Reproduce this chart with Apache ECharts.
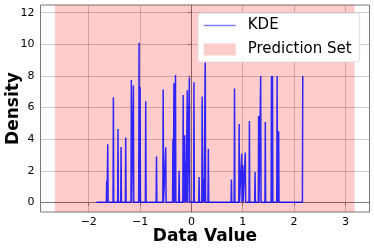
<!DOCTYPE html>
<html>
<head>
<meta charset="utf-8">
<script src="https://cdn.jsdelivr.net/npm/echarts@6/dist/echarts.min.js"></script>
<style>html,body{margin:0;padding:0;background:#fff;}#c{width:374px;height:249px;}</style>
</head>
<body>
<div id="c"></div>
<script>
// Spike locations and heights of the KDE curve
const spikeX = [-1.65,-1.63,-1.52,-1.43,-1.37,-1.28,-1.17,-1.13,-1.02,-1.00,-0.89,-0.68,-0.55,-0.50,-0.36,-0.34,-0.31,-0.24,-0.16,-0.13,-0.11,-0.08,-0.04,0.05,0.15,0.21,0.24,0.27,0.33,0.78,0.84,0.93,0.98,1.00,1.05,1.13,1.24,1.31,1.35,1.44,1.56,1.58,1.67,1.70,2.17];
const spikeH = [1.35,3.67,6.65,4.64,3.5,4.11,7.74,7.4,10.1,7.3,6.4,2.9,7.15,3.48,4.0,7.53,8.06,2.0,6.8,4.24,2.55,7.1,7.9,7.6,1.6,6.7,1.5,9.3,3.4,1.45,7.2,4.96,3.08,2.36,3.16,5.15,1.92,5.46,8.0,5.08,8.0,8.0,8.0,4.5,8.0];
const kdeStart = -1.85;
const predictionSet = [-2.66, 3.18];
const xTicks = [-2,-1,0,1,2,3];
const yTicks = [0,2,4,6,8,10,12];

const halfW = 0.007;
const kdeData = [[kdeStart, 0]];
for (let i = 0; i < spikeX.length; i++) {
  kdeData.push([spikeX[i] - halfW, 0]);
  kdeData.push([spikeX[i], spikeH[i]]);
  if (i < spikeX.length - 1) kdeData.push([spikeX[i] + halfW, 0]);
}

const fmt = v => (v < 0 ? '\u2212' + Math.abs(v) : String(v));
const chart = echarts.init(document.getElementById('c'));
chart.setOption({
  animation: false,
  textStyle: {fontFamily: 'DejaVu Sans'},
  grid: {left: 40.5, right: 4.5, top: 5, bottom: 37, show: true, borderColor: '#777', borderWidth: 1,
         containLabel: false, outerBoundsMode: 'none'},
  legend: {
    orient: 'vertical', left: 198, top: 13, width: 164, height: 49,
    padding: [5, 8, 5, 5], itemGap: 9, itemWidth: 32, itemHeight: 12,
    backgroundColor: '#fff', borderColor: '#ddd', borderWidth: 1, borderRadius: 3,
    textStyle: {fontSize: 15, color: '#000', fontFamily: 'DejaVu Sans', padding: [0, 0, 0, 7]},
    data: [
      {name: 'KDE', itemStyle: {opacity: 0}, lineStyle: {color: 'rgba(0,0,255,0.5)', width: 1.5}},
      {name: 'Prediction Set', icon: 'rect'}
    ]
  },
  xAxis: {
    type: 'value', min: -2.94, max: 3.47,
    name: 'Data Value', nameLocation: 'middle', nameGap: 16, nameMoveOverlap: false,
    nameTextStyle: {fontSize: 17, fontWeight: 'bold', color: '#000'},
    axisLine: {show: true, lineStyle: {color: '#777'}},
    axisTick: {show: true, customValues: xTicks, length: 3.5, lineStyle: {color: '#777'}},
    axisLabel: {customValues: xTicks, formatter: fmt, fontSize: 11, color: '#000', margin: 5},
    splitLine: {show: true, lineStyle: {color: 'rgba(140,140,140,0.45)', width: 1}}
  },
  yAxis: {
    type: 'value', min: -0.61, max: 12.49,
    name: 'Density', nameLocation: 'middle', nameGap: 18, nameMoveOverlap: false,
    nameTextStyle: {fontSize: 17, fontWeight: 'bold', color: '#000'},
    axisLine: {show: true, lineStyle: {color: '#777'}},
    axisTick: {show: true, customValues: yTicks, length: 3.5, lineStyle: {color: '#777'}},
    axisLabel: {customValues: yTicks, formatter: fmt, fontSize: 11, color: '#000', margin: 6},
    splitLine: {show: true, lineStyle: {color: 'rgba(140,140,140,0.45)', width: 1}}
  },
  series: [
    {
      name: 'Prediction Set', type: 'line', data: [],
      itemStyle: {color: '#ffcccc'}, lineStyle: {color: '#ffcccc'},
      markArea: {
        silent: true,
        itemStyle: {color: 'rgba(255,0,0,0.2)'},
        data: [[{xAxis: predictionSet[0]}, {xAxis: predictionSet[1]}]]
      }
    },
    {
      name: 'KDE', type: 'line', data: kdeData, showSymbol: false, symbol: 'none',
      itemStyle: {color: 'rgba(0,0,255,0.5)'},
      lineStyle: {color: 'rgba(0,0,255,0.82)', width: 1.5}, z: 3
    }
  ]
});
</script>
</body>
</html>
